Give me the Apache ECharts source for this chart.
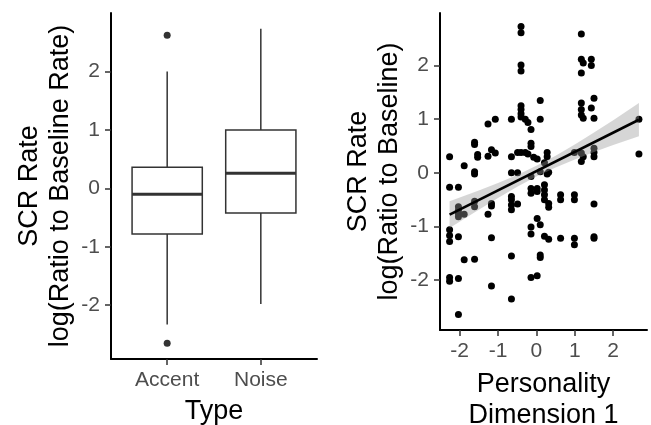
<!DOCTYPE html>
<html>
<head>
<meta charset="utf-8">
<script src="https://cdn.jsdelivr.net/npm/echarts@6/dist/echarts.min.js"></script>
<style>
  html, body { margin: 0; padding: 0; background: #fff; }
  #scrChart { width: 651px; height: 425px; }
</style>
</head>
<body>
<div id="scrChart"></div>
<script>
  // left panel: box summaries per type
  const types = ['Accent', 'Noise'];
  const whiskerLow = [-2.33, -1.98];
  const boxQ1 = [-0.78, -0.42];
  const boxMedian = [-0.10, 0.26];
  const boxQ3 = [0.36, 1.00];
  const whiskerHigh = [2.00, 2.73];
  const outlierType = [1, 1];
  const outlierValue = [2.62, -2.65];

  // right panel: personality dimension 1 vs SCR rate
  const personality = [
    -2.26, -2.26, -2.26, -2.26, -2.26, -2.26, -2.26,
    -2.03, -2.03, -2.03, -2.03, -2.03, -2.03, -2.03, -2.03,
    -1.88, -1.88, -1.88,
    -1.61, -1.61, -1.61, -1.61, -1.61, -1.61, -1.61,
    -1.53, -1.53,
    -1.26, -1.26, -1.26,
    -1.17, -1.17, -1.17, -1.17, -1.17,
    -1.07, -1.07,
    -0.65, -0.65, -0.65, -0.65, -0.65, -0.65, -0.65, -0.65, -0.65,
    -0.49, -0.49, -0.49,
    -0.40, -0.40, -0.40, -0.40, -0.40, -0.40, -0.40, -0.40, -0.40,
    -0.29, -0.29,
    -0.22, -0.22,
    -0.14, -0.14, -0.14, -0.14, -0.14, -0.14, -0.14, -0.14, -0.14,
    -0.07,
    0.02, 0.02, 0.02, 0.02, 0.02,
    0.10, 0.10, 0.10, 0.10, 0.10, 0.10,
    0.21, 0.21, 0.21, 0.21, 0.21, 0.21,
    0.28, 0.28, 0.28,
    0.32, 0.32, 0.32, 0.32,
    0.63, 0.63, 0.63,
    0.99, 0.99, 0.99, 0.99, 0.99,
    1.17, 1.17, 1.17, 1.17, 1.17, 1.17, 1.17, 1.17,
    1.22, 1.22, 1.22,
    1.43, 1.43, 1.43,
    1.50, 1.50, 1.50, 1.50, 1.50, 1.50, 1.50, 1.50,
    2.67, 2.67
  ];
  const scrRate = [
    0.30, -0.27, -1.06, -1.17, -1.28, -1.95, -2.02,
    -0.27, -0.63, -0.70, -0.82, -1.19, -1.97, -2.64, -0.76,
    0.13, -0.77, -1.62,
    0.57, 0.53, 0.02, -0.02, -0.53, -0.63, -1.61,
    0.34, 0.29,
    0.91, 0.31, -0.77,
    0.43, -0.57, -0.62, -1.21, -2.11,
    1.00, 0.37,
    1.00, 0.30, 0.00, -0.44, -0.50, -0.60, -0.69, -1.55, -2.35,
    0.38, 0.00, -0.58,
    2.73, 2.61, 2.01, 1.90, 1.25, 1.18, 1.10, 1.04, 0.38,
    1.00, 0.38,
    0.94, 0.35,
    0.81, 0.55, 0.49, -0.07, -0.29, -0.38, -1.01, -1.14, -1.95,
    0.29,
    0.26, -0.29, -0.35, -0.85, -1.92,
    1.35, 1.00, 0.02, -0.97, -1.53, -1.58,
    0.19, -0.22, -0.32, -0.41, -0.50, -1.18,
    0.38, 0.30, -0.02,
    0.01, -0.57, -0.64, -1.24,
    -0.41, -0.50, -1.22,
    0.38, -0.41, -0.50, -1.22, -1.34,
    2.59, 2.12, 1.86, 1.30, 1.18, 1.08, 0.37, 0.21,
    2.05, 1.02, 0.30,
    2.12, 2.00, 1.21,
    1.39, 1.02, 0.46, 0.38, 0.30, -0.58, -1.19, -1.22,
    1.00, 0.35
  ];

  // linear fit and its confidence band
  const fitX = [-2.26, 2.67];
  const fitY = [-0.78, 0.99];
  const bandX = [-2.26, -1.5, -1.0, -0.5, 0.0, 0.5, 1.0, 1.5, 2.0, 2.67];
  const bandLow = [-1.03, -0.69, -0.47, -0.26, -0.07, 0.10, 0.25, 0.39, 0.52, 0.68];
  const bandHigh = [-0.53, -0.33, -0.19, -0.04, 0.13, 0.32, 0.53, 0.75, 0.98, 1.30];

  const yTicks = [-2, -1, 0, 1, 2];
  const xTicks = [-2, -1, 0, 1, 2];

  const font = '"Liberation Sans", Arial, sans-serif';

  let myChart = echarts.init(document.getElementById('scrChart'));

  function axisCommon(labelMargin) {
    return {
      splitLine: { show: false },
      axisLine: { show: true, onZero: false, lineStyle: { color: '#000', width: 2 } },
      axisTick: { show: true, length: 6, lineStyle: { color: '#333', width: 1.5 } },
      axisLabel: { color: '#4d4d4d', fontSize: 21, fontFamily: font, margin: labelMargin },
      nameMoveOverlap: false,
      nameTextStyle: { color: '#000', fontSize: 27, fontFamily: font, lineHeight: 31 }
    };
  }

  function withTicks(ax, ticks) {
    ax.axisTick.customValues = ticks;
    ax.axisLabel.customValues = ticks;
    return ax;
  }

  const boxData = types.map((t, i) => [i + 1, whiskerLow[i], boxQ1[i], boxMedian[i], boxQ3[i], whiskerHigh[i]]);

  function renderBox(params, api) {
    const x = api.value(0);
    const lo = api.coord([x, api.value(1)]);
    const q1 = api.coord([x, api.value(2)]);
    const med = api.coord([x, api.value(3)]);
    const q3 = api.coord([x, api.value(4)]);
    const hi = api.coord([x, api.value(5)]);
    const half = api.size([0.75, 0])[0] / 2;
    const stroke = { stroke: '#333', lineWidth: 1.5, fill: null };
    return {
      type: 'group',
      children: [
        { type: 'line', shape: { x1: lo[0], y1: lo[1], x2: q1[0], y2: q1[1] }, style: stroke },
        { type: 'line', shape: { x1: q3[0], y1: q3[1], x2: hi[0], y2: hi[1] }, style: stroke },
        { type: 'rect', shape: { x: q3[0] - half, y: q3[1], width: half * 2, height: q1[1] - q3[1] },
          style: { fill: '#fff', stroke: '#333', lineWidth: 1.5 } },
        { type: 'line', shape: { x1: med[0] - half, y1: med[1], x2: med[0] + half, y2: med[1] },
          style: { stroke: '#333', lineWidth: 3 } }
      ]
    };
  }

  const bandData = bandX.map((x, i) => [x, bandLow[i], bandHigh[i]]);

  function renderBand(params, api) {
    if (params.dataIndex !== 0) return null;
    const pts = [];
    for (let i = 0; i < bandX.length; i++) pts.push(api.coord([bandX[i], bandHigh[i]]));
    for (let i = bandX.length - 1; i >= 0; i--) pts.push(api.coord([bandX[i], bandLow[i]]));
    return {
      type: 'polygon',
      shape: { points: pts },
      style: { fill: 'rgba(153,153,153,0.4)' }
    };
  }

  const leftX = withTicks(axisCommon(11), [1, 2]);
  Object.assign(leftX, { type: 'value', gridIndex: 0, min: 0.4, max: 2.6, name: 'Type', nameLocation: 'middle', nameGap: 37 });
  leftX.axisLabel.formatter = v => types[Math.round(v) - 1];

  const leftY = withTicks(axisCommon(11), yTicks);
  Object.assign(leftY, { type: 'value', gridIndex: 0, min: -2.92, max: 3.0,
    name: 'SCR Rate\nlog(Ratio to Baseline Rate)', nameLocation: 'middle', nameRotate: 90, nameGap: 35 });

  const rightX = withTicks(axisCommon(11), xTicks);
  Object.assign(rightX, { type: 'value', gridIndex: 1, min: -2.51, max: 2.88,
    name: 'Personality\nDimension 1', nameLocation: 'middle', nameGap: 39 });

  const rightY = withTicks(axisCommon(11), yTicks);
  Object.assign(rightY, { type: 'value', gridIndex: 1, min: -2.93, max: 2.98,
    name: 'SCR Rate\nlog(Ratio to Baseline)', nameLocation: 'middle', nameRotate: 90, nameGap: 35 });

  myChart.setOption({
    animation: false,
    grid: [
      { left: 111, top: 13, width: 206, height: 346, outerBoundsMode: 'none' },
      { left: 440, top: 13, width: 207, height: 317, outerBoundsMode: 'none' }
    ],
    xAxis: [leftX, rightX],
    yAxis: [leftY, rightY],
    series: [{
      type: 'custom',
      xAxisIndex: 0,
      yAxisIndex: 0,
      renderItem: renderBox,
      encode: { x: 0, y: [1, 2, 3, 4, 5] },
      data: boxData
    }, {
      type: 'scatter',
      xAxisIndex: 0,
      yAxisIndex: 0,
      symbolSize: 7,
      itemStyle: { color: '#333', opacity: 1 },
      data: outlierType.map((t, i) => [t, outlierValue[i]])
    }, {
      type: 'scatter',
      xAxisIndex: 1,
      yAxisIndex: 1,
      symbolSize: 7,
      itemStyle: { color: '#000', opacity: 1 },
      data: personality.map((x, i) => [x, scrRate[i]])
    }, {
      type: 'custom',
      xAxisIndex: 1,
      yAxisIndex: 1,
      renderItem: renderBand,
      encode: { x: 0, y: [1, 2] },
      data: bandData,
      z: 3
    }, {
      type: 'line',
      xAxisIndex: 1,
      yAxisIndex: 1,
      symbol: 'none',
      lineStyle: { color: '#000', width: 2.6 },
      data: fitX.map((x, i) => [x, fitY[i]]),
      z: 4
    }]
  });

  window.addEventListener('resize', () => {
    myChart.resize();
  });
</script>
</body>
</html>
